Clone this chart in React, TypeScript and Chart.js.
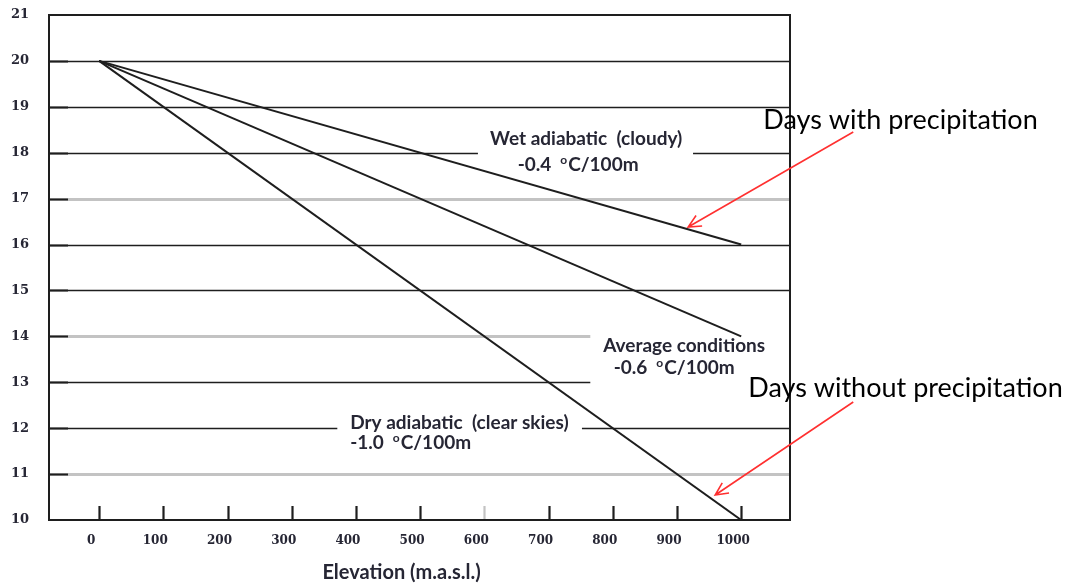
import React, { useEffect, useRef } from "react";
import { Chart, registerables } from "chart.js";
Chart.register(...registerables);

// ---- data ----
const elevations = [0, 1000];
const wetAdiabatic = [20, 16];
const averageConditions = [20, 14];
const dryAdiabatic = [20, 10];
const xTickValues = [0, 100, 200, 300, 400, 500, 600, 700, 800, 900, 1000];
const yTickValues = [10, 11, 12, 13, 14, 15, 16, 17, 18, 19, 20, 21];
const grayGridValues = [17, 14, 11];
const grayXTickValues = [600];
const wetLabel = ["Wet adiabatic  (cloudy)", "-0.4", "C/100m"];
const averageLabel = ["Average conditions", "-0.6", "C/100m"];
const dryLabel = ["Dry adiabatic  (clear skies)", "-1.0", "C/100m"];
const calloutWet = "Days with precipitation";
const calloutDry = "Days without precipitation";
const xAxisTitle = "Elevation (m.a.s.l.)";

const DARK = "#1e1e1e";
const GRAY = "#c3c3c3";
const TEXT = "#262634";
const RED = "#ff3030";
const ANN_FONT = "bold 19px Lato";
const SUP_FONT = "bold 12px Lato";

function drawLapse(ctx: CanvasRenderingContext2D, parts: string[], x: number, y: number, align: "left" | "center") {
  ctx.font = ANN_FONT;
  const w1 = ctx.measureText(parts[1]).width;
  const gap = 9;
  ctx.font = SUP_FONT;
  const ws = ctx.measureText("o").width;
  ctx.font = ANN_FONT;
  const w2 = ctx.measureText(parts[2]).width;
  const total = w1 + gap + ws + 1 + w2;
  let left = align === "left" ? x : x - total / 2;
  ctx.textAlign = "left";
  ctx.font = ANN_FONT;
  ctx.fillText(parts[1], left, y);
  left += w1 + gap;
  ctx.font = SUP_FONT;
  ctx.fillText("o", left, y - 7);
  left += ws + 1;
  ctx.font = ANN_FONT;
  ctx.fillText(parts[2], left, y);
}

function arrow(ctx: CanvasRenderingContext2D, x1: number, y1: number, x2: number, y2: number) {
  ctx.save();
  ctx.strokeStyle = RED;
  ctx.lineWidth = 1.6;
  ctx.beginPath();
  ctx.moveTo(x1, y1);
  ctx.lineTo(x2, y2);
  const a = Math.atan2(y2 - y1, x2 - x1);
  const L = 14;
  const s = 0.45;
  ctx.moveTo(x2 - L * Math.cos(a - s), y2 - L * Math.sin(a - s));
  ctx.lineTo(x2, y2);
  ctx.lineTo(x2 - L * Math.cos(a + s), y2 - L * Math.sin(a + s));
  ctx.stroke();
  ctx.restore();
}

const gridPlugin = {
  id: "gridFrame",
  beforeDatasetsDraw(chart: any) {
    const { ctx, chartArea: ca, scales } = chart;
    const xs = scales.x, ys = scales.y;
    const X = (v: number) => xs.getPixelForValue(v);
    const Y = (v: number) => ys.getPixelForValue(v);
    const gaps: Record<number, [number, number][]> = {
      18: [[590, 925]],
      14: [[765, 2000]],
      13: [[765, 2000]],
      12: [[371, 752]],
    };
    ctx.save();
    yTickValues.forEach((v) => {
      if (v === ys.min || v === ys.max) return;
      const gray = grayGridValues.includes(v);
      ctx.strokeStyle = gray ? GRAY : DARK;
      ctx.lineWidth = gray ? 3 : 1.4;
      const y = Math.round(Y(v)) + 0.5;
      let segs: [number, number][] = [[ca.left, ca.right]];
      (gaps[v] || []).forEach(([a, b]) => {
        const pa = X(a), pb = Math.min(X(b), ca.right);
        const next: [number, number][] = [];
        segs.forEach(([s, e]) => {
          if (pb <= s || pa >= e) next.push([s, e]);
          else {
            if (pa > s) next.push([s, pa]);
            if (pb < e) next.push([pb, e]);
          }
        });
        segs = next;
      });
      segs.forEach(([s, e]) => {
        ctx.beginPath();
        ctx.moveTo(s, y);
        ctx.lineTo(e, y);
        ctx.stroke();
      });
      ctx.strokeStyle = DARK;
      ctx.lineWidth = 2;
      ctx.beginPath();
      ctx.moveTo(ca.left, y);
      ctx.lineTo(ca.left + 19, y);
      ctx.stroke();
    });
    xTickValues.forEach((v) => {
      const x = Math.round(X(v)) + 0.5;
      ctx.strokeStyle = grayXTickValues.includes(v) ? GRAY : DARK;
      ctx.lineWidth = 2.2;
      ctx.beginPath();
      ctx.moveTo(x, ca.bottom);
      ctx.lineTo(x, ca.bottom - 14);
      ctx.stroke();
    });
    ctx.strokeStyle = DARK;
    ctx.lineWidth = 2;
    ctx.strokeRect(ca.left, ca.top, ca.right - ca.left, ca.bottom - ca.top);
    ctx.restore();
  },
  afterDatasetsDraw(chart: any) {
    const { ctx, scales } = chart;
    const X = (v: number) => scales.x.getPixelForValue(v);
    const Y = (v: number) => scales.y.getPixelForValue(v);
    ctx.save();
    ctx.fillStyle = TEXT;
    ctx.textBaseline = "alphabetic";
    ctx.font = ANN_FONT;
    ctx.textAlign = "center";
    ctx.fillText(wetLabel[0], X(758.6), Y(18.168));
    drawLapse(ctx, wetLabel, X(746), Y(17.602), "center");
    ctx.font = ANN_FONT;
    ctx.textAlign = "center";
    ctx.fillText(averageLabel[0], X(911.2), Y(13.659));
    drawLapse(ctx, averageLabel, X(895.6), Y(13.18), "center");
    ctx.font = ANN_FONT;
    ctx.textAlign = "left";
    ctx.fillText(dryLabel[0], X(391), Y(11.982));
    drawLapse(ctx, dryLabel, X(391), Y(11.546), "left");
    ctx.font = "bold 20px Lato";
    ctx.textAlign = "center";
    ctx.fillText(xAxisTitle, X(471), Y(8.715));
    ctx.fillStyle = "#000";
    ctx.font = "27px Lato";
    ctx.textAlign = "left";
    ctx.fillText(calloutWet, X(1034.3), Y(18.517));
    ctx.fillText(calloutDry, X(1010.9), Y(12.679));
    arrow(ctx, X(1174.5), Y(18.451), X(917.4), Y(16.382));
    arrow(ctx, X(1174.5), Y(12.57), X(959.5), Y(10.544));
    ctx.restore();
  },
};

export default function App() {
  const ref = useRef<HTMLCanvasElement | null>(null);
  useEffect(() => {
    document.body.style.margin = "0";
    const canvas = ref.current!;
    const mk = (data: number[]) => ({
      data: elevations.map((x, i) => ({ x, y: data[i] })),
      borderColor: DARK,
      borderWidth: 2,
      pointRadius: 0,
      fill: false,
    });
    const xFont = { family: "DejaVu Serif", weight: "bold" as const, size: 12 };
    const yFont = { family: "DejaVu Serif", weight: "bold" as const, size: 13 };
    const chart = new Chart(canvas, {
      type: "line",
      data: {
        datasets: [mk(wetAdiabatic), mk(averageConditions), mk(dryAdiabatic)],
      },
      options: {
        responsive: false,
        animation: false,
        layout: { padding: { left: 0, right: 289, top: 15, bottom: 0 } },
        plugins: { legend: { display: false }, tooltip: { enabled: false } },
        scales: {
          x: {
            type: "linear",
            min: -78,
            max: 1076,
            grid: { display: false, drawTicks: false },
            border: { display: false },
            ticks: {
              font: xFont,
              color: TEXT,
              padding: 14,
              labelOffset: -8,
              maxRotation: 0,
              callback: (v: any) => String(v),
            },
            afterBuildTicks: (s: any) => {
              s.ticks = xTickValues.map((value) => ({ value }));
            },
            afterFit: (s: any) => {
              s.height = 65;
            },
          },
          y: {
            type: "linear",
            min: 10,
            max: 21,
            grid: { display: false, drawTicks: false },
            border: { display: false },
            ticks: { font: yFont, color: TEXT, padding: 20, callback: (v: any) => String(v) },
            afterBuildTicks: (s: any) => {
              s.ticks = yTickValues.map((value) => ({ value }));
            },
            afterFit: (s: any) => {
              s.width = 49;
              s.paddingTop = 0;
              s.paddingBottom = 0;
            },
          },
        },
      },
      plugins: [gridPlugin],
    });
    return () => chart.destroy();
  }, []);
  return <canvas ref={ref} width={1079} height={585} style={{ display: "block" }} />;
}
